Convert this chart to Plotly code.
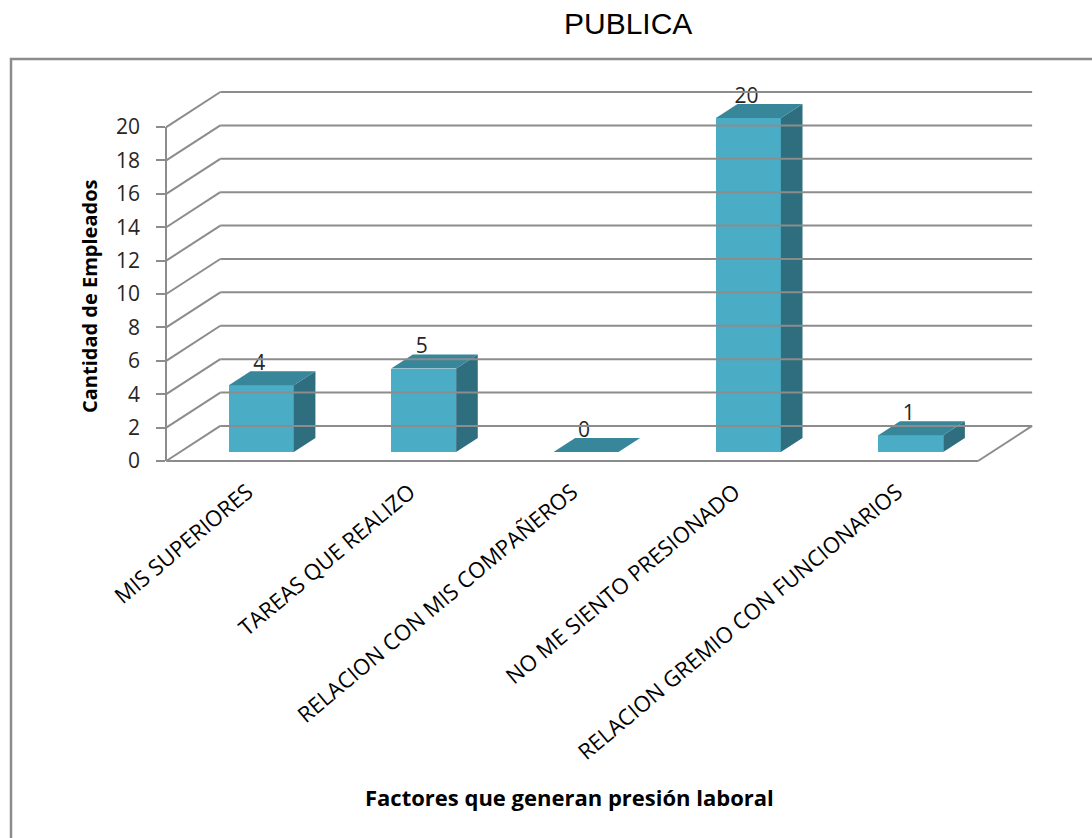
import plotly.graph_objects as go

# ---------------- data ----------------
categories = ["MIS SUPERIORES", "TAREAS QUE REALIZO", "RELACION CON MIS COMPAÑEROS",
              "NO ME SIENTO PRESIONADO", "RELACION GREMIO CON FUNCIONARIOS"]
values = [4, 5, 0, 20, 1]
y_ticks = [0, 2, 4, 6, 8, 10, 12, 14, 16, 18, 20]

title_text = "PUBLICA"
y_title = "Cantidad de Empleados"
x_title = "Factores que generan presión laboral"

# ---------------- style / geometry ----------------
W, H = 1092, 838
ML, MR, MT, MB = 150, 49, 87, 372
XR = [-0.6, 4.9]
YR = [-0.3, 22.4]

DX, DY = 0.333, 2.1          # depth offset of the back wall (data units)
D_FRONT, D_BACK = 0.257, 0.657  # depth fractions of bar front / back faces
HALF_W = 0.2

FRONT_C = "#4BACC6"
TOP_C = "#37869A"
SIDE_C = "#2F6E7E"
GRID_C = "#8C8C8C"
TXT_C = "#262626"

fx, fy = D_FRONT * DX, D_FRONT * DY
bx, by = D_BACK * DX, D_BACK * DY

x_left, x_right = -0.5, len(categories) - 0.5

fig = go.Figure()

# ---------- grid (back wall + left wall) ----------
shapes = []
for t in y_ticks:
    shapes.append(dict(type="line", xref="x", yref="y", x0=x_left, y0=t,
                       x1=x_left + DX, y1=t + DY, line=dict(color=GRID_C, width=2)))
    shapes.append(dict(type="line", xref="x", yref="y", x0=x_left + DX, y0=t + DY,
                       x1=x_right + DX, y1=t + DY, line=dict(color=GRID_C, width=2)))
shapes.append(dict(type="line", xref="x", yref="y", x0=x_left, y0=0, x1=x_right, y1=0,
                   line=dict(color=GRID_C, width=2)))
shapes.append(dict(type="line", xref="x", yref="y", x0=x_right, y0=0, x1=x_right + DX, y1=DY,
                   line=dict(color=GRID_C, width=2)))

# ---------- bars: front faces ----------
xs = list(range(len(categories)))
fig.add_trace(go.Bar(
    x=[x + fx for x in xs], y=values, base=[fy] * len(values), width=2 * HALF_W,
    marker=dict(color=FRONT_C, line=dict(width=0)), showlegend=False, hoverinfo="skip"))

# ---------- bars: top & side faces ----------
for x, v in zip(xs, values):
    if v > 0:
        fig.add_trace(go.Scatter(
            x=[x + HALF_W + fx, x + HALF_W + fx, x + HALF_W + bx, x + HALF_W + bx, x + HALF_W + fx],
            y=[fy, v + fy, v + by, by, fy],
            fill="toself", fillcolor=SIDE_C, line=dict(width=0, color=SIDE_C), mode="lines",
            showlegend=False, hoverinfo="skip"))
    fig.add_trace(go.Scatter(
        x=[x - HALF_W + fx, x + HALF_W + fx, x + HALF_W + bx, x - HALF_W + bx, x - HALF_W + fx],
        y=[v + fy, v + fy, v + by, v + by, v + fy],
        fill="toself", fillcolor=TOP_C, line=dict(width=0, color=TOP_C), mode="lines",
        showlegend=False, hoverinfo="skip"))

# ---------- data labels ----------
fig.add_trace(go.Scatter(
    x=[x + fx - 0.012 for x in xs], y=[v + by - 0.25 for v in values], mode="text",
    text=[str(v) for v in values], textposition="top center",
    textfont=dict(family="Open Sans", size=21, color=TXT_C),
    showlegend=False, hoverinfo="skip", cliponaxis=False))

def yp(v):
    return (v - YR[0]) / (YR[1] - YR[0])

def xp(v):
    return (v - XR[0]) / (XR[1] - XR[0])

fig.add_trace(go.Scatter(x=[0], y=[0], yaxis="y2", mode="markers",
                         marker=dict(opacity=0), showlegend=False, hoverinfo="skip"))

pw = W - ML - MR
ph = H - MT - MB

def px_x(p):
    return (p - ML) / pw

def px_y(p):
    return (H - MB - p) / ph

shapes.append(dict(type="rect", xref="paper", yref="paper",
                   x0=px_x(11), y0=px_y(59), x1=px_x(1110), y1=px_y(860),
                   line=dict(color="#8C8C8C", width=2.5), layer="below"))

annotations = [
    dict(text=title_text, xref="paper", yref="paper", x=px_x(628), y=px_y(23),
         showarrow=False, xanchor="center", yanchor="middle",
         font=dict(family="Liberation Sans, Arial", size=30, color="#000000")),
    dict(text="<b>" + y_title + "</b>", xref="paper", yref="paper", x=px_x(89), y=px_y(296),
         showarrow=False, textangle=-90, xanchor="center", yanchor="middle",
         font=dict(family="Open Sans", size=20, color="#000000")),
    dict(text="<b>" + x_title + "</b>", xref="paper", yref="paper", x=px_x(569), y=px_y(797),
         showarrow=False, xanchor="center", yanchor="middle",
         font=dict(family="Open Sans", size=22, color="#000000")),
]

fig.update_layout(
    width=W, height=H,
    margin=dict(l=ML, r=MR, t=MT, b=MB),
    paper_bgcolor="white", plot_bgcolor="rgba(0,0,0,0)",
    shapes=shapes, annotations=annotations,
    xaxis=dict(range=XR, domain=[0, 1], tickmode="array", tickvals=xs, ticktext=categories,
               tickangle=-40, showgrid=False, zeroline=False, showline=False, ticks="",
               ticklabelstandoff=8,
               tickfont=dict(family="Open Sans", size=22, color="#000000"),
               automargin=False),
    yaxis=dict(range=YR, domain=[0, 1], showgrid=False, zeroline=False, showline=False,
               showticklabels=False, ticks=""),
    yaxis2=dict(range=[0, 20], domain=[yp(0), yp(20)], anchor="free", position=xp(x_left),
                side="left", tickvals=y_ticks, showgrid=False, zeroline=False,
                showline=True, linecolor=GRID_C, linewidth=2,
                ticks="outside", ticklen=9, tickcolor=GRID_C, tickwidth=2,
                ticklabelstandoff=12,
                tickfont=dict(family="Open Sans", size=21, color=TXT_C)),
    bargap=0,
)

fig.write_html("out.html")
